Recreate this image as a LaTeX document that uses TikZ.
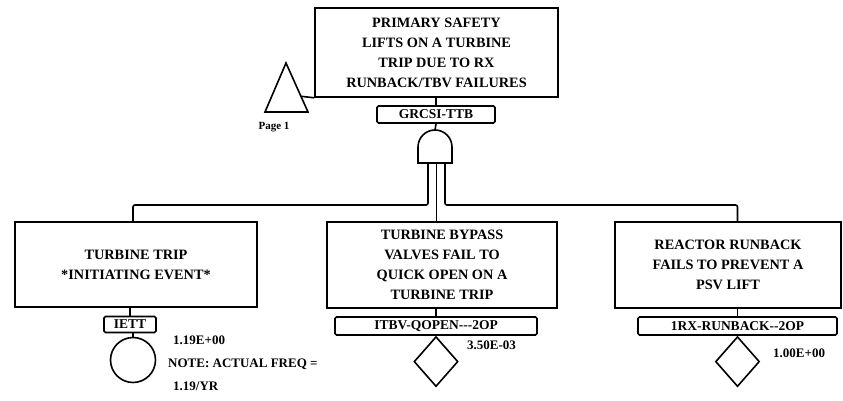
\documentclass[tikz,border=0pt]{standalone}
\usepackage{fontspec}
\setmainfont{Liberation Serif}
\usetikzlibrary{positioning, shapes.geometric, calc}

\begin{document}
\begin{tikzpicture}[x=1pt, y=-1pt,
    evento/.style={draw, line width=1.6pt, align=center, inner sep=0pt,
      font=\fontsize{14.3}{20}\selectfont\bfseries},
    rotulo/.style={draw, line width=1.6pt, rounded corners=1.5pt, inner sep=0pt,
      font=\fontsize{13.5}{15}\selectfont\bfseries},
    liga/.style={line width=1.6pt},
    valor/.style={anchor=west, inner sep=0pt, align=left,
      font=\fontsize{13}{23}\selectfont\bfseries}]
  \useasboundingbox (0,0) rectangle (843,401);
  % Evento de topo
  \node[evento, minimum width=243pt, minimum height=89pt] (topo) at (436.5,52.5)
    {PRIMARY SAFETY\\LIFTS ON A TURBINE\\TRIP DUE TO RX\\RUNBACK/TBV FAILURES};
  \node[rotulo, minimum width=118pt, minimum height=17pt] (rotT) at (436,114.5) {GRCSI-TTB};
  \draw[liga] (rotT.north |- topo.south) -- (rotT.north);
  % Transferencia
  \coordinate (triA) at (286,63);
  \coordinate (triL) at (265,112);
  \coordinate (triR) at (308,112);
  \draw[liga] (triA) -- (triR) -- (triL) -- cycle;
  \draw[liga] ($(triA)!0.68!(triR)$) -- (topo.south west);
  \node[font=\fontsize{11}{12}\selectfont\bfseries] (pag) at (274,127) {Page 1};
  % Porta E
  \coordinate (portaT) at (435,130);
  \draw[liga] (418,163) -- (418,147) arc[start angle=180, end angle=360, radius=17]
    -- (452,163) -- cycle;
  \draw[liga] (rotT.south) -- (portaT);
  \coordinate (pE) at (428,163);
  \coordinate (pM) at (436.5,163);
  \coordinate (pD) at (445,163);
  % Eventos basicos
  \node[evento, minimum width=242pt, minimum height=85pt] (esq) at (136,264.5)
    {TURBINE TRIP\\*INITIATING EVENT*};
  \node[evento, minimum width=230pt, minimum height=86pt] (meio) at (442,265)
    {TURBINE BYPASS\\VALVES FAIL TO\\QUICK OPEN ON A\\TURBINE TRIP};
  \node[evento, minimum width=226pt, minimum height=86pt] (dir) at (728,265)
    {REACTOR RUNBACK\\FAILS TO PREVENT A\\PSV LIFT};
  \node[rotulo, minimum width=52pt, minimum height=16pt] (rotE) at (130,324.5) {IETT};
  \node[rotulo, minimum width=202pt, minimum height=18pt] (rotM) at (436,326) {ITBV-QOPEN-{}-{}-2OP};
  \node[rotulo, minimum width=199pt, minimum height=18pt] (rotD) at (737.5,326) {1RX-RUNBACK-{}-2OP};
  \node[draw, liga, circle, minimum size=45pt, inner sep=0pt] (circE) at (133,360) {};
  \node[draw, liga, diamond, minimum width=44pt, minimum height=50pt, inner sep=0pt,
    anchor=north] (losM) at (rotM.south) {};
  \node[draw, liga, diamond, minimum width=44pt, minimum height=50pt, inner sep=0pt,
    anchor=north] (losD) at (rotD.south) {};
  % Ligacoes
  \draw[liga, rounded corners=2pt] (pE) -- ++(0,42) -| (circE |- esq.north);
  \draw[liga] (pM) -- (pM |- meio.north);
  \draw[liga, rounded corners=2pt] (pD) -- ++(0,42) -| (rotD |- dir.north);
  \draw[liga] (rotE.north |- esq.south) -- (rotE.north);
  \draw[liga] (rotM.north |- meio.south) -- (rotM.north);
  \draw[liga] (rotD.north |- dir.south) -- (rotD.north);
  \draw[liga] (circE.north) -- (circE.north |- rotE.south);
  % Valores
  \node[valor] (vE) at (168,363) {\hspace*{5pt}1.19E+00\\NOTE: ACTUAL FREQ =\\\hspace*{5pt}1.19/YR};
  \node[valor] (vM) at (467,345) {3.50E-03};
  \node[valor] (vD) at (773,353) {1.00E+00};
\end{tikzpicture}
\end{document}
